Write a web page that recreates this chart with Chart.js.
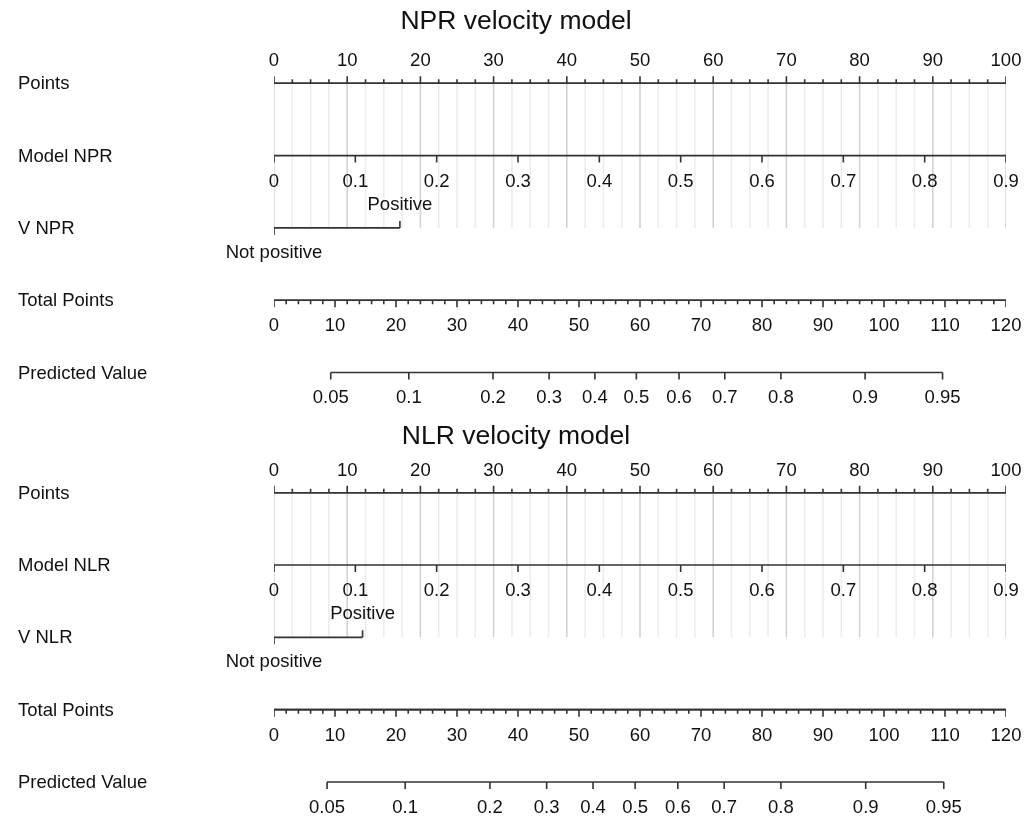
<!DOCTYPE html>
<html>
<head>
<meta charset="utf-8">
<script src="https://cdn.jsdelivr.net/npm/chart.js@4.4.0/dist/chart.umd.min.js"></script>
<style>
  html, body { margin: 0; padding: 0; background: #fff; }
  #wrap { width: 1035px; height: 817px; }
</style>
</head>
<body>
<div id="wrap"><canvas id="nomo"></canvas></div>
<script>
// values
var panelTitles = ['NPR velocity model', 'NLR velocity model'];
var rowLabels = [
  ['Points', 'Model NPR', 'V NPR', 'Total Points', 'Predicted Value'],
  ['Points', 'Model NLR', 'V NLR', 'Total Points', 'Predicted Value']
];
var pointTicks = [0, 10, 20, 30, 40, 50, 60, 70, 80, 90, 100];
var modelTicks = [0, 0.1, 0.2, 0.3, 0.4, 0.5, 0.6, 0.7, 0.8, 0.9];
var modelMax = 0.9;              // model value worth 100 points
var vLevels = ['Not positive', 'Positive'];
var vPoints = [[0, 17.2], [0, 12.1]];
var totalTicks = [0, 10, 20, 30, 40, 50, 60, 70, 80, 90, 100, 110, 120];
var totalMax = 120;
var predTicks = ['0.05', '0.1', '0.2', '0.3', '0.4', '0.5', '0.6', '0.7', '0.8', '0.9', '0.95'];
// total points where each predicted value tick sits
var predTotal = [
  [9.3, 22.1, 35.9, 45.1, 52.6, 59.4, 66.4, 73.9, 83.1, 96.9, 109.6],
  [8.7, 21.5, 35.4, 44.7, 52.3, 59.2, 66.2, 73.8, 83.1, 97.0, 109.8]
];

// layout (row units on the y scale, one row = 72.3 px)
var ROW = 72.3;
var panelBase = [0, 5.663];
var TL = 7 / ROW, TLs = 4 / ROW;
var FONT = '"Liberation Sans", Arial, sans-serif';

function tot2pts(v) { return v * 100 / totalMax; }

function axisData(x0, x1, y, ticks, dir, len) {
  var d = [{x: x0, y: y}, {x: x1, y: y}, {x: x1, y: null}];
  ticks.forEach(function (t) {
    d.push({x: t, y: y}, {x: t, y: y + dir * len}, {x: t, y: null});
  });
  return d;
}
function minorTicks(step, max, skip) {
  var out = [];
  for (var v = step; v < max; v += step) {
    if (Math.abs(v / skip - Math.round(v / skip)) > 1e-6) out.push(v);
  }
  return out;
}
function lineSet(data, color, width, order) {
  return {
    type: 'scatter', data: data, showLine: true, spanGaps: false,
    borderColor: color, borderWidth: width, pointRadius: 0,
    borderCapStyle: 'butt', tension: 0, order: order
  };
}

var datasets = [];
panelBase.forEach(function (b, p) {
  var yP = b, yM = b + 1, yV = b + 2, yT = b + 3, yR = b + 4;
  // vertical reference lines
  var minor = [], major = [];
  minorTicks(2.5, 100, 10).forEach(function (v) { minor.push({x: v, y: yP}, {x: v, y: yV}, {x: v, y: null}); });
  pointTicks.forEach(function (v) { major.push({x: v, y: yP}, {x: v, y: yV}, {x: v, y: null}); });
  datasets.push(lineSet(minor, '#ececec', 1.5, 3));
  datasets.push(lineSet(major, '#d0d0d0', 1.5, 2));
  // Points
  datasets.push(lineSet(axisData(0, 100, yP, pointTicks, -1, TL), '#333', 1.6, 1));
  datasets.push(lineSet(axisData(0, 100, yP, minorTicks(2.5, 100, 10), -1, TLs), '#333', 1.6, 1));
  // Model
  datasets.push(lineSet(axisData(0, 100, yM, modelTicks.map(function (v) { return v / modelMax * 100; }), 1, TL), '#333', 1.6, 1));
  // V (two levels, ticks in opposite directions)
  var vp = vPoints[p];
  var vd = axisData(vp[0], vp[1], yV, [vp[0]], 1, TL).concat(axisData(vp[1], vp[1], yV, [vp[1]], -1, TL).slice(3));
  datasets.push(lineSet(vd, '#333', 1.6, 1));
  // Total points
  datasets.push(lineSet(axisData(0, 100, yT, totalTicks.map(tot2pts), 1, TL), '#333', 1.6, 1));
  datasets.push(lineSet(axisData(0, 100, yT, minorTicks(2, totalMax, 10).map(tot2pts), 1, TLs), '#333', 1.6, 1));
  // Predicted value
  var pt = predTotal[p].map(tot2pts);
  datasets.push(lineSet(axisData(pt[0], pt[pt.length - 1], yR, pt, 1, TL), '#333', 1.6, 1));
});

var textPlugin = {
  id: 'nomoText',
  afterDatasetsDraw: function (chart) {
    var ctx = chart.ctx, xs = chart.scales.x, ys = chart.scales.y;
    ctx.save();
    ctx.fillStyle = '#111';
    ctx.textBaseline = 'middle';
    panelBase.forEach(function (b, p) {
      function yy(r) { return ys.getPixelForValue(b + r); }
      function put(txt, x, y) { ctx.fillText(txt, x, y); }
      // title
      ctx.font = '26.5px ' + FONT;
      ctx.textAlign = 'center';
      put(panelTitles[p], 516, yy(0) - (p === 0 ? 62 : 56));
      // row labels
      ctx.font = '18.5px ' + FONT;
      ctx.textAlign = 'left';
      rowLabels[p].forEach(function (l, r) { put(l, 18, yy(r) + 1); });
      ctx.textAlign = 'center';
      pointTicks.forEach(function (v) { put(String(v), xs.getPixelForValue(v), yy(0) - 22); });
      modelTicks.forEach(function (v) { put(String(v), xs.getPixelForValue(v / modelMax * 100), yy(1) + 26); });
      put(vLevels[0], xs.getPixelForValue(vPoints[p][0]), yy(2) + 25);
      put(vLevels[1], xs.getPixelForValue(vPoints[p][1]), yy(2) - 23);
      totalTicks.forEach(function (v) { put(String(v), xs.getPixelForValue(tot2pts(v)), yy(3) + 26); });
      predTicks.forEach(function (l, i) { put(l, xs.getPixelForValue(tot2pts(predTotal[p][i])), yy(4) + 25.5); });
    });
    ctx.restore();
  }
};

new Chart(document.getElementById('nomo'), {
  type: 'scatter',
  data: { datasets: datasets },
  options: {
    responsive: true,
    maintainAspectRatio: false,
    animation: false,
    layout: { padding: { left: 274, right: 29, top: 0, bottom: 0 } },
    plugins: { legend: { display: false }, tooltip: { enabled: false } },
    scales: {
      x: { type: 'linear', min: 0, max: 100, display: false },
      y: { type: 'linear', reverse: true, min: -83.3 / ROW, max: (817 - 83.3) / ROW, display: false }
    }
  },
  plugins: [textPlugin]
});
</script>
</body>
</html>
